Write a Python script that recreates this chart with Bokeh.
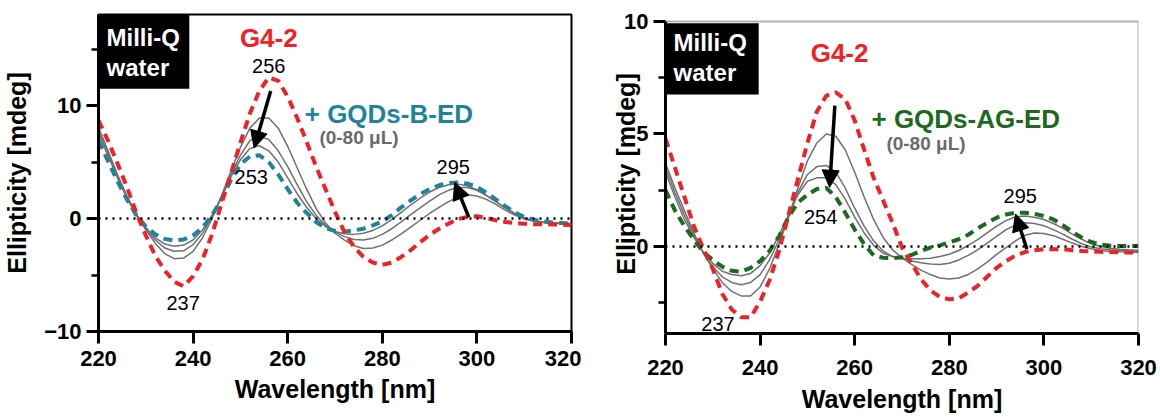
from bokeh.plotting import figure
from bokeh.layouts import row
from bokeh.models import (FixedTicker, Label, Arrow, NormalHead, Span, BoxAnnotation, Range1d)
from bokeh.embed import file_html
from bokeh.resources import INLINE

# ---------------- data ----------------
wavelength = list(range(220, 321, 2))

# panel a: G4-2 with GQDs-B-ED titration
a_g4 = [8.7, 6.9, 4.9, 2.8, 0.5, -1.5, -3.3, -4.6, -5.6, -6.0, -5.1, -3.6, -1.4, 1.3, 4.0, 6.7,
        9.3, 11.3, 12.5, 12.2, 10.8, 8.9, 6.8, 4.6, 2.6, 0.6, -1.2, -2.5, -3.4, -3.9, -4.1, -3.9,
        -3.4, -2.8, -2.1, -1.45, -0.9, -0.45, -0.05, 0.15, 0.2, 0.05, -0.15, -0.3, -0.4, -0.45,
        -0.5, -0.5, -0.52, -0.55, -0.56]
a_step1 = [8.1, 6.0, 3.9, 2.0, 0.4, -1.0, -2.2, -3.1, -3.55, -3.5, -2.9, -1.7, 0.0, 2.0, 4.2, 6.3,
           8.0, 8.9, 8.9, 8.0, 6.4, 4.5, 2.6, 0.9, -0.4, -1.3, -1.9, -2.4, -2.65, -2.6, -2.35, -1.9,
           -1.35, -0.75, -0.15, 0.45, 1.0, 1.5, 1.9, 2.1, 2.0, 1.7, 1.25, 0.75, 0.3, -0.05,
           -0.25, -0.35, -0.4, -0.45, -0.5]
a_step2 = [7.8, 5.8, 3.8, 1.9, 0.35, -0.9, -1.9, -2.6, -2.9, -2.85, -2.3, -1.3, 0.2, 1.9, 3.9, 5.6,
           6.9, 7.3, 7.0, 6.0, 4.6, 3.0, 1.5, 0.3, -0.6, -1.2, -1.6, -1.85, -1.9, -1.75, -1.4, -0.9,
           -0.3, 0.35, 0.95, 1.55, 2.1, 2.5, 2.75, 2.75, 2.5, 2.05, 1.5, 0.95, 0.45, 0.05,
           -0.2, -0.3, -0.38, -0.42, -0.48]
a_step3 = [7.5, 5.6, 3.6, 1.8, 0.3, -0.8, -1.7, -2.25, -2.45, -2.35, -1.9, -1.0, 0.3, 1.8, 3.7, 5.2,
           6.2, 6.45, 6.0, 5.0, 3.6, 2.2, 1.0, 0.0, -0.7, -1.15, -1.35, -1.4, -1.3, -1.05, -0.65, -0.1,
           0.55, 1.2, 1.8, 2.35, 2.75, 3.0, 3.05, 2.9, 2.55, 2.05, 1.5, 0.95, 0.45, 0.05,
           -0.2, -0.3, -0.38, -0.42, -0.46]
a_gqd = [6.9, 5.1, 3.3, 1.7, 0.3, -0.7, -1.4, -1.8, -1.95, -1.85, -1.5, -0.8, 0.3, 1.7, 3.4, 4.8,
         5.5, 5.6, 5.0, 3.9, 2.6, 1.4, 0.5, -0.3, -0.85, -1.1, -1.15, -1.05, -0.9, -0.6, -0.25, 0.3,
         1.0, 1.6, 2.15, 2.6, 2.95, 3.15, 3.2, 3.1, 2.8, 2.3, 1.7, 1.1, 0.55, 0.15,
         -0.1, -0.25, -0.35, -0.4, -0.45]

# panel b: G4-2 with GQDs-AG-ED titration
b_g4 = [4.8, 3.5, 2.2, 0.9, -0.1, -1.0, -2.1, -2.8, -3.15, -3.15, -2.45, -1.5, -0.2, 1.4, 3.0, 4.6,
        6.0, 6.7, 6.85, 6.55, 5.6, 4.3, 3.05, 2.05, 1.05, -0.05, -0.75, -1.45, -1.95, -2.25, -2.35, -2.3,
        -2.05, -1.75, -1.35, -0.95, -0.65, -0.4, -0.25, -0.17, -0.12, -0.12, -0.12, -0.17, -0.2, -0.22,
        -0.24, -0.25, -0.26, -0.27, -0.28]
b_step1 = [3.7, 2.6, 1.6, 0.6, -0.3, -1.0, -1.6, -2.0, -2.2, -2.2, -1.8, -1.0, 0.1, 1.3, 2.6, 3.8,
           4.6, 5.0, 4.9, 4.3, 3.3, 2.2, 1.2, 0.4, -0.15, -0.5, -0.8, -1.05, -1.25, -1.4, -1.45, -1.4,
           -1.25, -1.0, -0.7, -0.35, -0.05, 0.25, 0.5, 0.6, 0.58, 0.48, 0.32, 0.15, 0.0, -0.1,
           -0.18, -0.22, -0.24, -0.25, -0.26]
b_step2 = [3.5, 2.4, 1.4, 0.5, -0.3, -0.9, -1.35, -1.6, -1.7, -1.6, -1.25, -0.6, 0.3, 1.3, 2.4, 3.2,
           3.55, 3.6, 3.3, 2.6, 1.7, 0.9, 0.25, -0.2, -0.45, -0.55, -0.65, -0.72, -0.78, -0.8, -0.75, -0.6,
           -0.4, -0.15, 0.15, 0.45, 0.75, 0.95, 1.05, 1.02, 0.92, 0.75, 0.55, 0.32, 0.12, -0.02,
           -0.1, -0.15, -0.18, -0.2, -0.22]
b_step3 = [3.3, 2.2, 1.2, 0.4, -0.25, -0.75, -1.1, -1.25, -1.3, -1.2, -0.85, -0.3, 0.5, 1.4, 2.3, 2.9,
           3.05, 3.05, 2.75, 2.1, 1.3, 0.6, 0.05, -0.3, -0.45, -0.52, -0.55, -0.55, -0.52, -0.45, -0.35, -0.18,
           0.05, 0.3, 0.6, 0.9, 1.15, 1.32, 1.35, 1.3, 1.2, 1.02, 0.8, 0.55, 0.32, 0.12,
           0.0, -0.08, -0.12, -0.15, -0.17]
b_gqd = [2.5, 1.6, 0.9, 0.3, -0.25, -0.6, -0.9, -1.08, -1.12, -0.95, -0.65, -0.2, 0.45, 1.3, 1.95, 2.3,
         2.55, 2.6, 2.2, 1.5, 0.75, 0.1, -0.4, -0.5, -0.52, -0.48, -0.38, -0.2, -0.05, 0.05, 0.18, 0.32,
         0.52, 0.8, 1.05, 1.28, 1.42, 1.5, 1.5, 1.45, 1.35, 1.2, 0.95, 0.65, 0.4, 0.2,
         0.08, 0.03, 0.02, 0.02, 0.02]

x_ticks = [220, 240, 260, 280, 300, 320]
a_y_ticks = [-10, 0, 10]
a_y_minor = [-5, 5, 15]
b_y_ticks = [0, 5, 10]
b_y_minor = [-2.5, 2.5, 7.5]

# peak wavelengths written on the curves
a_peaks = [256, 253, 295, 237]
b_peaks = [254, 295, 237]

FONT = "Liberation Sans"
RED = "#ee2226"
TEAL = "#1f849b"
GREEN = "#1d6a1f"
GREY = "#707070"


def make_panel(y_range, y_ticks, y_minor, left, frame_h, right, bottom,
               label_standoff, tick_standoff, xlabel_standoff):
    p = figure(frame_width=473, frame_height=frame_h, title=None,
               min_border_left=left, min_border_right=right,
               min_border_top=14, min_border_bottom=bottom,
               x_range=Range1d(220, 320), y_range=Range1d(*y_range),
               output_backend="svg", toolbar_location=None)
    p.background_fill_color = "white"
    p.border_fill_color = "white"
    p.outline_line_color = "black"
    p.outline_line_width = 2
    p.grid.visible = False

    xa = p.xaxis[0]
    xa.ticker = FixedTicker(ticks=x_ticks)
    xa.axis_label = "Wavelength [nm]"
    ya = p.yaxis[0]
    ya.ticker = FixedTicker(ticks=y_ticks, minor_ticks=y_minor)
    ya.axis_label = "Ellipticity [mdeg]"
    ya.axis_label_standoff = label_standoff
    for ax in (xa, ya):
        ax.axis_line_width = 3
        ax.axis_line_color = "black"
        ax.major_tick_line_width = 3
        ax.minor_tick_line_width = 2.5
        ax.major_tick_out = 12
        ax.major_tick_in = 0
        ax.minor_tick_out = 7
        ax.minor_tick_in = 0
        ax.major_label_text_font = FONT
        ax.major_label_text_font_style = "bold"
        ax.major_label_text_font_size = "22px"
        ax.major_label_text_color = "black"
        ax.axis_label_text_font = FONT
        ax.axis_label_text_font_style = "bold"
        ax.axis_label_text_font_size = "25px"
        ax.axis_label_text_color = "black"
    xa.minor_tick_line_color = None
    xa.major_label_standoff = tick_standoff
    xa.axis_label_standoff = xlabel_standoff
    ya.major_label_standoff = 5

    p.add_layout(Span(location=0, dimension="width", line_color="black",
                      line_dash="2 5", line_width=2.5))
    return p


def text(p, x, y, s, size, color="black", style="bold", align="center"):
    p.add_layout(Label(x=x, y=y, text=s, text_font=FONT, text_font_size=size,
                       text_font_style=style, text_color=color,
                       text_align=align, text_baseline="middle"))


def arrow(p, x0, y0, x1, y1):
    p.add_layout(Arrow(end=NormalHead(size=17, fill_color="black", line_color="black"),
                       x_start=x0, y_start=y0, x_end=x1, y_end=y1,
                       line_width=3.5, line_color="black"))


# ---------------- panel a ----------------
pa = make_panel((-10, 18.07), a_y_ticks, a_y_minor, 97, 317, 10, 89, 10, 7, 6)
for ys in (a_step1, a_step2, a_step3):
    pa.line(wavelength, ys, line_color=GREY, line_width=1.5)
pa.line(wavelength, a_gqd, line_color=TEAL, line_width=4, line_dash="9 6")
pa.line(wavelength, a_g4, line_color=RED, line_width=4, line_dash="9 6")

pa.add_layout(BoxAnnotation(left=220, right=239.2, bottom=11.5, top=18.07,
                            fill_color="black", fill_alpha=1, line_color=None))
text(pa, 221.7, 16.0, "Milli-Q", "24px", "white", align="left")
text(pa, 221.7, 13.35, "water", "24px", "white", align="left")
text(pa, 214.0, 16.5, "a)", "28px")
text(pa, 256, 16.0, "G4-2", "26px", RED)
text(pa, 263.6, 9.3, "+ GQDs-B-ED", "26px", TEAL, align="left")
text(pa, 266.7, 7.15, "(0-80 μL)", "19px", "#6a6a6a", align="left")
text(pa, a_peaks[0], 13.55, str(a_peaks[0]), "20px", style="normal")
text(pa, a_peaks[1] - 0.7, 3.65, str(a_peaks[1]), "20px", style="normal")
text(pa, a_peaks[2], 4.6, str(a_peaks[2]), "20px", style="normal")
text(pa, a_peaks[3] + 0.9, -7.5, str(a_peaks[3]), "20px", style="normal")
arrow(pa, 256.4, 11.3, 252.9, 6.25)
arrow(pa, 298.3, 0.1, 295.3, 3.2)

# ---------------- panel b ----------------
# frame starts a little above the 10 mdeg line; the box outline stops at 10
b_lo, b_hi = -3.87, 10
pb = make_panel((b_lo, b_hi + 7 * (b_hi - b_lo) / 312), b_y_ticks, b_y_minor,
                84, 319, 23, 87, -19, 14, 7)
pb.outline_line_color = None
pb.yaxis[0].bounds = (b_lo, b_hi)
pb.add_layout(BoxAnnotation(left=220, right=320, bottom=b_lo, top=b_hi,
                            fill_alpha=0, line_color="black", line_width=2))
for ys in (b_step1, b_step2, b_step3):
    pb.line(wavelength, ys, line_color=GREY, line_width=1.5)
pb.line(wavelength, b_gqd, line_color=GREEN, line_width=4, line_dash="9 6")
pb.line(wavelength, b_g4, line_color=RED, line_width=4, line_dash="9 6")

pb.add_layout(BoxAnnotation(left=220, right=239.7, bottom=6.75, top=9.92,
                            fill_color="black", fill_alpha=1, line_color=None))
text(pb, 221.7, 9.07, "Milli-Q", "24px", "white", align="left")
text(pb, 221.7, 7.73, "water", "24px", "white", align="left")
text(pb, 206.4, 9.45, "b)", "28px")
text(pb, 256.8, 8.58, "G4-2", "26px", RED)
text(pb, 263.55, 5.67, "+ GQDs-AG-ED", "26px", GREEN, align="left")
text(pb, 266.7, 4.56, "(0-80 μL)", "19px", "#6a6a6a", align="left")
text(pb, b_peaks[0] - 1.2, 1.29, str(b_peaks[0]), "20px", style="normal")
text(pb, b_peaks[1], 2.26, str(b_peaks[1]), "20px", style="normal")
text(pb, b_peaks[2] - 5.9, -3.45, str(b_peaks[2]), "20px", style="normal")
arrow(pb, 255.8, 6.26, 254.7, 2.63)
arrow(pb, 296.4, -0.12, 294.0, 1.44)

layout = row(pa, pb, spacing=0)
open("out.html", "w").write(file_html(layout, INLINE))
